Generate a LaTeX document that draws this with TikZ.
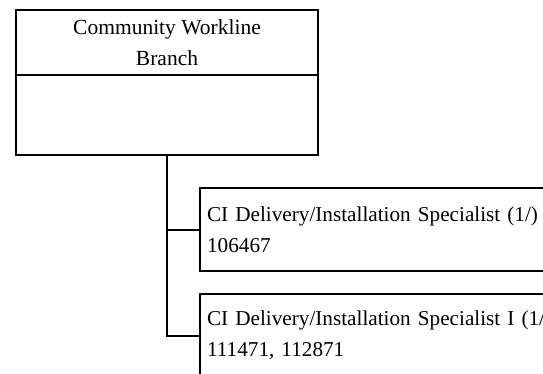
\documentclass[tikz,border=0pt]{standalone}
\usepackage{fontspec}
\setmainfont{Liberation Serif}
\usetikzlibrary{positioning}

\tikzset{
    orgbox/.style={draw, line width=2.2pt, rectangle, minimum width=302pt, inner sep=0pt,
        outer sep=0pt, align=center, font=\fontsize{21.5}{31}\selectfont},
    posbox/.style={draw, line width=2.2pt, rectangle, minimum height=83pt,
        inner xsep=7pt, inner ysep=0pt, text width=420pt, align=left,
        font=\fontsize{21.2}{31}\selectfont},
    link/.style={line width=2.2pt}
}

\begin{document}
\begin{tikzpicture}[x=1pt, y=-1pt]
    \useasboundingbox (0,0) rectangle (543,373);
    \clip (0,0) rectangle (543,373);

    \node[orgbox, minimum height=65pt, anchor=north west] (branch) at (16,10) {Community Workline\\Branch};
    \node[orgbox, minimum height=80pt, below=0pt of branch] (branchbody) {};

    \node[posbox, anchor=north west] (spec1) at (199,187) {CI Delivery/Installation Specialist (1/)\\106467};
    \node[posbox, anchor=north west] (spec2) at (199,293) {CI Delivery/Installation Specialist I (1/)\\111471, 112871};

    \draw[link] (branchbody.south) |- (spec2.west);
    \draw[link] (branchbody.south |- spec1.west) -- (spec1.west);
\end{tikzpicture}
\end{document}
